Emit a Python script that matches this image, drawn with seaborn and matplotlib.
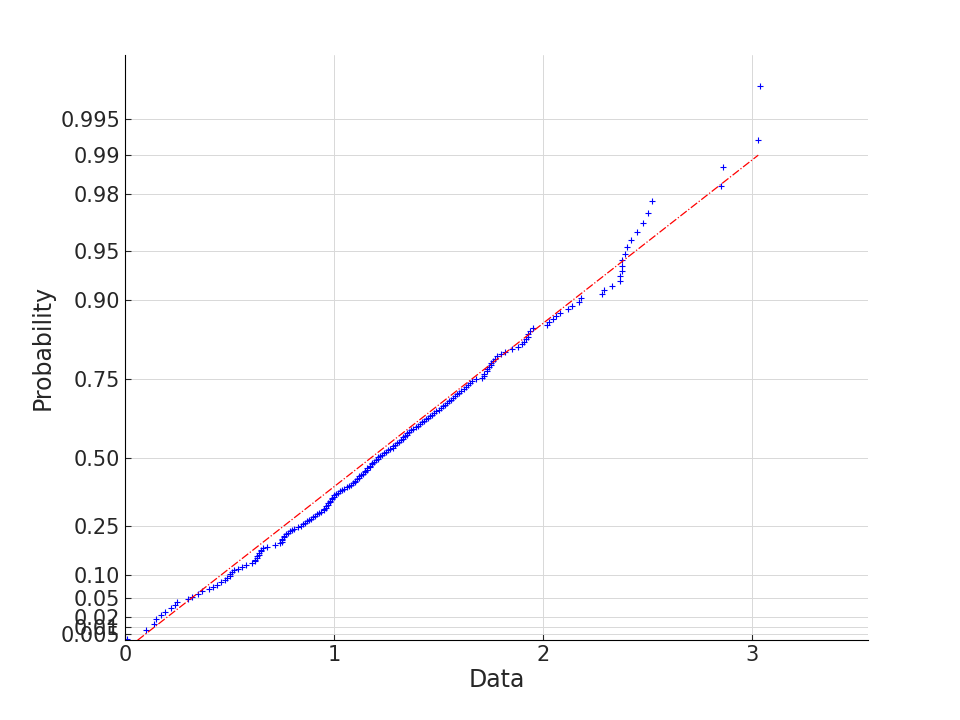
import numpy as np
import pandas as pd
import matplotlib
matplotlib.use("Agg")
import matplotlib.pyplot as plt
import seaborn as sns

data_x = [0.01,0.1,0.14,0.15,0.17,0.19,0.22,0.24,0.25,0.3,
 0.32,0.35,0.37,0.4,0.42,0.44,0.46,0.48,0.49,0.5,
 0.5,0.51,0.52,0.54,0.56,0.58,0.61,0.62,0.62,0.63,
 0.63,0.64,0.64,0.65,0.65,0.66,0.68,0.72,0.74,0.75,
 0.75,0.75,0.76,0.76,0.77,0.78,0.79,0.8,0.81,0.83,
 0.84,0.85,0.86,0.87,0.88,0.89,0.9,0.91,0.92,0.93,
 0.94,0.95,0.95,0.96,0.96,0.97,0.97,0.98,0.98,0.99,
 0.99,1.0,1.0,1.01,1.02,1.03,1.04,1.05,1.06,1.07,
 1.08,1.09,1.1,1.1,1.11,1.12,1.12,1.13,1.14,1.15,
 1.15,1.16,1.16,1.17,1.17,1.18,1.18,1.19,1.2,1.21,
 1.21,1.22,1.23,1.24,1.25,1.26,1.27,1.28,1.28,1.29,
 1.3,1.31,1.32,1.33,1.33,1.34,1.35,1.35,1.36,1.37,
 1.38,1.39,1.4,1.41,1.42,1.43,1.44,1.45,1.46,1.47,
 1.48,1.49,1.5,1.51,1.52,1.53,1.54,1.55,1.56,1.57,
 1.58,1.59,1.6,1.61,1.62,1.63,1.64,1.65,1.66,1.68,
 1.71,1.72,1.72,1.73,1.73,1.74,1.75,1.75,1.76,1.77,
 1.78,1.8,1.82,1.85,1.88,1.9,1.91,1.92,1.93,1.93,
 1.94,1.95,2.02,2.03,2.05,2.06,2.08,2.12,2.14,2.17,
 2.18,2.28,2.29,2.33,2.37,2.37,2.38,2.38,2.38,2.39,
 2.4,2.42,2.45,2.48,2.5,2.52,2.85,2.86,3.03,3.04]
prob_ticks = [0.005,0.01,0.02,0.05,0.10,0.25,0.50,0.75,0.90,0.95,0.98,0.99,0.995]
tick_labels = ["0.005","0.01","0.02","0.05","0.10","0.25","0.50","0.75","0.90","0.95","0.98","0.99","0.995"]
fit_scale = 1.412  # sigma*sqrt(2)
line_x = [0.06, 3.03]

def tr(p):
    p = np.asarray(p, float)
    return np.sqrt(-np.log(1 - p))

x = np.sort(np.array(data_x))
n = len(x)
p = (np.arange(1, n + 1) - 0.5) / n
df = pd.DataFrame({"x": x, "t": tr(p)})

sns.set_style("white")
plt.rcParams['font.family'] = ['DejaVu Sans']
fig = plt.figure(figsize=(9.6, 7.2), dpi=100)
ax = fig.add_axes([125/960, 80/720, 743/960, 585/720])
lx = np.array(line_x)
ax.plot(lx, lx / fit_scale, color="red", ls="-.", lw=0.9)
sns.scatterplot(data=df, x="x", y="t", marker="+", color="blue", s=22, linewidth=0.8, ax=ax)
ax.set_xlim(0, 3.555)
ax.set_ylim(0.0437, 2.58)
ax.set_xticks([0, 1, 2, 3])
ax.set_yticks(tr(prob_ticks))
ax.set_yticklabels(tick_labels)
ax.grid(True, color="#d8d8d8", lw=0.7)
for s in ["top", "right"]:
    ax.spines[s].set_visible(False)
for s in ["left", "bottom"]:
    ax.spines[s].set_color("black")
ax.tick_params(labelsize=15, colors="#262626", direction="in", length=4, left=True, bottom=True)
ax.set_xlabel("Data", fontsize=17, color="#262626", labelpad=2)
ax.set_ylabel("Probability", fontsize=17, color="#262626")
fig.savefig("out.png")
